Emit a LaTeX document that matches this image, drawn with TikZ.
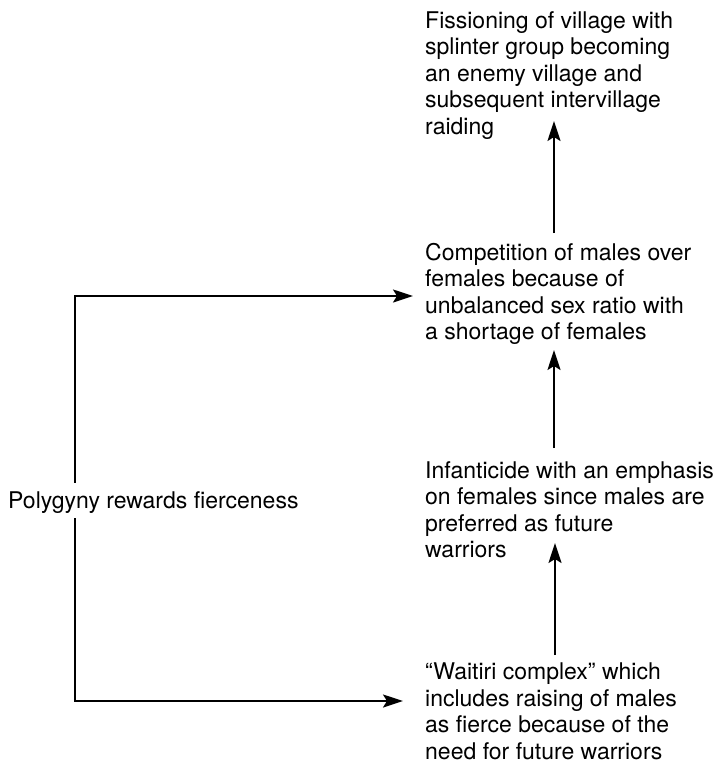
\documentclass[tikz,border=0pt]{standalone}
\usepackage{fontspec}
\setmainfont{TeX Gyre Heros}
\usetikzlibrary{arrows.meta}
\begin{document}
\begin{tikzpicture}[x=1pt,y=-1pt,
  txt/.style={anchor=north west, inner sep=0pt, align=left, font=\fontsize{23}{26.5}\selectfont},
  lbl/.style={anchor=base west, inner sep=0pt, font=\fontsize{23}{26.5}\selectfont},
  ln/.style={line width=2pt},
  arr/.style={ln, -{Stealth[length=20pt,width=13pt,inset=4pt]}}]
\useasboundingbox (0,0) rectangle (719,763);
\node[txt] (fis) at (425,11) {Fissioning of village with\\splinter group becoming\\an enemy village and\\subsequent intervillage\\raiding};
\node[txt] (comp) at (425,243) {Competition of males over\\females because of\\unbalanced sex ratio with\\a shortage of females};
\node[txt] (inf) at (425,461) {Infanticide with an emphasis\\on females since males are\\preferred as future\\warriors};
\node[txt] (wai) at (425,663) {“Waitiri complex” which\\includes raising of males\\as fierce because of the\\need for future warriors};
\node[lbl] (poly) at (8,508) {Polygyny rewards fierceness};
% vertical arrows
\coordinate (a1e) at (554,121);
\coordinate (a2e) at (554,350);
\coordinate (a3e) at (555,543);
\draw[arr, shorten <=10pt] (comp.north -| a1e) -- (a1e);
\draw[arr, shorten <=13pt] (inf.north -| a2e) -- (a2e);
\draw[arr, shorten <=8pt] (wai.north -| a3e) -- (a3e);
% left frame
\coordinate (ftop) at (75,296);
\coordinate (fbot) at (75,701);
\draw[arr, shorten <=8pt, shorten >=12pt] (ftop |- poly.north) -- (ftop) -- (ftop -| comp.west);
\draw[arr, shorten <=5pt, shorten >=22pt] (fbot |- poly.south) -- (fbot) -- (fbot -| wai.west);
\end{tikzpicture}
\end{document}
